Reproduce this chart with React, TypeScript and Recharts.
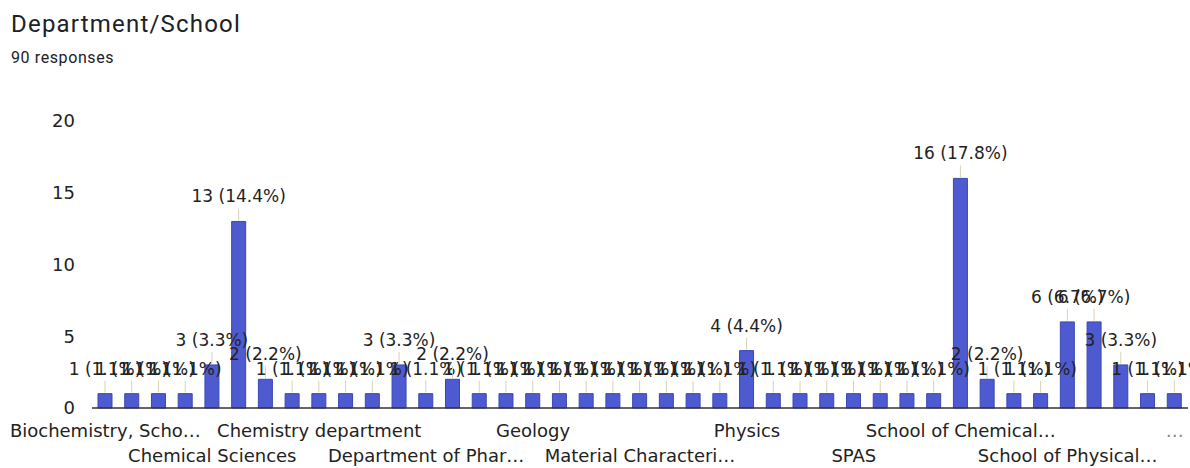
import React from 'react';
import { BarChart, Bar, XAxis, YAxis, LabelList } from 'recharts';

const TOTAL = 90;

const DEPARTMENTS = [
  'Biochemistry, School of Life Sciences',
  'Biotechnology',
  'Botany',
  'Chemical Engineering',
  'Chemical Sciences',
  'Chemistry',
  'Chemistry Dept',
  'Chemistry and Biochemistry',
  'Chemistry department',
  'Computer Science',
  'Department of Biotechnology',
  'Department of Chemistry',
  'Department of Pharmaceutical Sciences',
  'Department of Physics',
  'Earth Sciences',
  'Environmental Science',
  'Geology',
  'Geophysics',
  'Industrial Chemistry',
  'Life Sciences',
  'Material Characterization Lab',
  'Materials Science',
  'Mathematics',
  'Nanotechnology',
  'Physics',
  'Physics Department',
  'Physics department',
  'Polymer Science',
  'SPAS',
  'SPS',
  'School of Basic Sciences',
  'School of Biological Sciences',
  'School of Chemical Sciences',
  'School of Chemistry',
  'School of Earth Sciences',
  'School of Life Sciences',
  'School of Physical Sciences',
  'School of Physics',
  'Solid State Physics',
  'Zoology',
  'Universitätsinstitutfürchemie',
];

const RESPONSES = [
  1, 1, 1, 1, 3, 13, 2, 1, 1, 1, 1, 3, 1, 2, 1, 1, 1, 1, 1, 1, 1, 1, 1, 1, 4,
  1, 1, 1, 1, 1, 1, 1, 16, 2, 1, 1, 6, 6, 3, 1, 1,
];

// every 4th category gets a label, alternating between two rows
const TICK_LABELS = [
  'Biochemistry, Scho…',
  'Chemical Sciences',
  'Chemistry department',
  'Department of Phar…',
  'Geology',
  'Material Characteri…',
  'Physics',
  'SPAS',
  'School of Chemical…',
  'School of Physical…',
  '…',
];

const Y_TICKS = [0, 5, 10, 15, 20];

const data = DEPARTMENTS.map((name, i) => ({ name, count: RESPONSES[i] }));

const CHART_FONT = '"DejaVu Sans", Arial, sans-serif';

const renderValueLabel = (props: any) => {
  const { x, y, width, value } = props;
  const cx = x + width / 2;
  const pct = ((value / TOTAL) * 100).toFixed(1);
  return (
    <g>
      <line x1={cx} x2={cx} y1={y - 1} y2={y - 13} stroke="#d9d2b4" strokeWidth={1} />
      <text x={cx} y={y - 19} textAnchor="middle" fontSize={17} fontFamily={CHART_FONT} fill="#222">
        {`${value} (${pct}%)`}
      </text>
    </g>
  );
};

const renderXTick = (props: any) => {
  const { x, payload } = props;
  const i = DEPARTMENTS.indexOf(payload.value);
  if (i % 4 !== 0) return <g />;
  const k = i / 4;
  return (
    <text
      x={x}
      y={k % 2 ? 462 : 437}
      textAnchor="middle"
      fontSize={18}
      fontFamily={CHART_FONT}
      fill={k === TICK_LABELS.length - 1 ? '#888' : '#222'}
    >
      {TICK_LABELS[k]}
    </text>
  );
};

export default function App() {
  return (
    <div style={{ position: 'relative', width: 1190, height: 468, background: '#fff', overflow: 'hidden' }}>
      <style>{'body{margin:0}'}</style>
      <div
        style={{
          position: 'absolute',
          left: 11,
          top: 12,
          fontFamily: 'Roboto, sans-serif',
          fontSize: 24,
          lineHeight: '24px',
          letterSpacing: 1.2,
          color: '#202124',
        }}
      >
        Department/School
      </div>
      <div
        style={{
          position: 'absolute',
          left: 11,
          top: 49,
          fontFamily: 'Roboto, sans-serif',
          fontSize: 16,
          lineHeight: '17px',
          letterSpacing: 0.6,
          color: '#202124',
        }}
      >
        {TOTAL} responses
      </div>
      <div style={{ position: 'absolute', left: 0, top: 0 }}>
        <BarChart width={1190} height={468} data={data} margin={{ top: 121, right: 2, left: 0, bottom: 0 }}>
          <XAxis
            dataKey="name"
            interval={0}
            height={60}
            tick={renderXTick}
            tickLine={false}
            axisLine={{ stroke: '#333', strokeWidth: 1.5 }}
          />
          <YAxis
            width={92}
            domain={[0, 20]}
            ticks={Y_TICKS}
            axisLine={false}
            tickLine={false}
            tickSize={0}
            tickMargin={17}
            tick={{ fontSize: 18, fontFamily: CHART_FONT, fill: '#222' }}
          />
          <Bar dataKey="count" fill="#4e5bd0" stroke="#3b47b5" strokeWidth={1} barSize={14} isAnimationActive={false}>
            <LabelList dataKey="count" content={renderValueLabel} />
          </Bar>
        </BarChart>
      </div>
    </div>
  );
}
